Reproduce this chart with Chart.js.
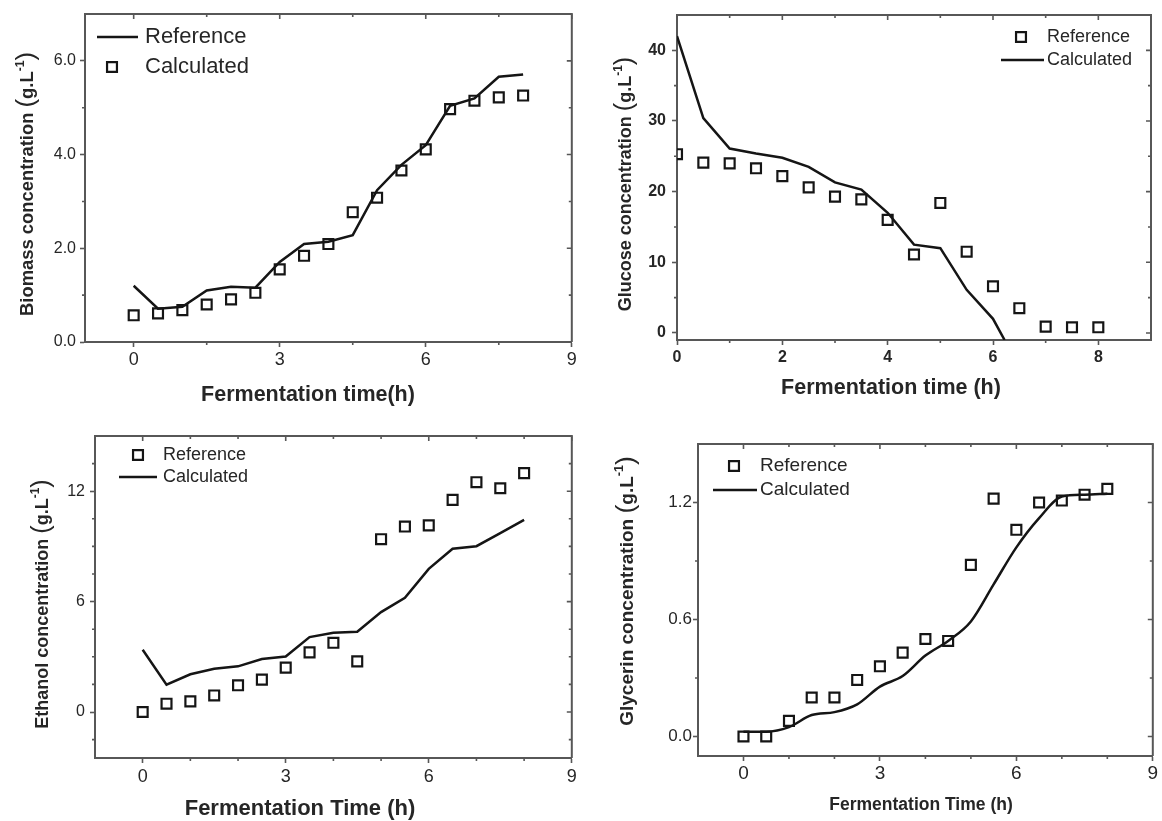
<!DOCTYPE html>
<html>
<head>
<meta charset="utf-8">
<title>Fermentation kinetics</title>
<script src="https://cdn.jsdelivr.net/npm/chart.js@4.4.1/dist/chart.umd.min.js"></script>
<style>
  html, body { margin: 0; padding: 0; background: #fff; }
  #page { position: relative; width: 1162px; height: 821px; overflow: hidden; background: #fff; }
  canvas { position: absolute; }
</style>
</head>
<body>
<div id="page">
  <canvas id="biomass" width="581" height="410" style="left:0;top:0"></canvas>
  <canvas id="glucose" width="581" height="410" style="left:581px;top:0"></canvas>
  <canvas id="ethanol" width="581" height="411" style="left:0;top:410px"></canvas>
  <canvas id="glycerin" width="581" height="411" style="left:581px;top:410px"></canvas>
</div>
<script>
var FONT = '"Liberation Sans", Arial, Helvetica, sans-serif';
var AXIS = '#575757';
var TEXT = '#262626';
var INK = '#151515';

// sampling times (h)
var timeH = [0, 0.5, 1, 1.5, 2, 2.5, 3, 3.5, 4, 4.5, 5, 5.5, 6, 6.5, 7, 7.5, 8];

// biomass: line = Reference, squares = Calculated
var biomassRef  = [1.20, 0.71, 0.75, 1.10, 1.18, 1.16, 1.71, 2.09, 2.14, 2.28, 3.24, 3.78, 4.20, 5.04, 5.20, 5.66, 5.71];
var biomassCalc = [0.57, 0.61, 0.68, 0.80, 0.91, 1.05, 1.55, 1.84, 2.09, 2.77, 3.08, 3.66, 4.11, 4.97, 5.15, 5.22, 5.26];
var biomassXTicks = [0, 3, 6, 9];
var biomassXMinor = [1.5, 4.5, 7.5];
var biomassYTicks = [0, 2, 4, 6];
var biomassYMinor = [1, 3, 5];

// glucose: squares = Reference, line = Calculated
var glucoseRef = [25.3, 24.1, 24.0, 23.3, 22.2, 20.6, 19.3, 18.9, 16.0, 11.1, 18.4, 11.5, 6.6, 3.5, 0.9, 0.8, 0.8];
var glucoseCalcTime = [0, 0.5, 1, 1.5, 2, 2.5, 3, 3.5, 4, 4.5, 5, 5.5, 6, 6.22];
var glucoseCalc = [42.0, 30.4, 26.1, 25.4, 24.8, 23.5, 21.3, 20.3, 17.0, 12.5, 12.0, 6.1, 2.0, -1.0];
var glucoseXTicks = [0, 2, 4, 6, 8];
var glucoseXMinor = [1, 3, 5, 7];
var glucoseYTicks = [0, 10, 20, 30, 40];
var glucoseYMinor = [5, 15, 25, 35];

// ethanol: squares = Reference, line = Calculated
var ethanolRef  = [0.0, 0.45, 0.58, 0.90, 1.45, 1.76, 2.41, 3.24, 3.76, 2.75, 9.39, 10.08, 10.14, 11.53, 12.49, 12.16, 12.98];
var ethanolCalc = [3.38, 1.48, 2.05, 2.35, 2.48, 2.88, 3.02, 4.07, 4.31, 4.36, 5.43, 6.21, 7.78, 8.87, 9.01, 9.72, 10.44];
var ethanolXTicks = [0, 3, 6, 9];
var ethanolXMinor = [1, 2, 4, 5, 7, 8];
var ethanolYTicks = [0, 6, 12];
var ethanolYMinor = [-1.5, 1.5, 3, 4.5, 7.5, 9, 10.5, 13.5];

// glycerin: squares = Reference, line = Calculated
var glycerinRef  = [0.0, 0.0, 0.08, 0.20, 0.20, 0.29, 0.36, 0.43, 0.50, 0.49, 0.88, 1.22, 1.06, 1.20, 1.21, 1.24, 1.27];
var glycerinCalc = [0.025, 0.025, 0.048, 0.11, 0.125, 0.165, 0.256, 0.31, 0.415, 0.49, 0.59, 0.78, 0.97, 1.12, 1.23, 1.24, 1.245];
var glycerinXTicks = [0, 3, 6, 9];
var glycerinXMinor = [1, 2, 4, 5, 7, 8];
var glycerinYTicks = [0, 0.6, 1.2];
var glycerinYMinor = [0.3, 0.9];

// top/right mirror axes + minor ticks
var framePlugin = {
  id: 'frame',
  afterDraw: function (chart, args, o) {
    var ctx = chart.ctx, a = chart.chartArea, xs = chart.scales.x, ys = chart.scales.y;
    ctx.save();
    ctx.strokeStyle = AXIS;
    ctx.lineWidth = 2;
    ctx.beginPath();
    ctx.moveTo(a.left, a.top);
    ctx.lineTo(a.right, a.top);
    ctx.lineTo(a.right, a.bottom);
    ctx.stroke();
    ctx.lineWidth = 1.6;
    ctx.beginPath();
    xs.ticks.forEach(function (t) {
      var p = xs.getPixelForValue(t.value);
      ctx.moveTo(p, a.top); ctx.lineTo(p, a.top + 5);
    });
    ys.ticks.forEach(function (t) {
      var p = ys.getPixelForValue(t.value);
      ctx.moveTo(a.right, p); ctx.lineTo(a.right - 5, p);
    });
    o.xMinor.forEach(function (v) {
      var p = xs.getPixelForValue(v);
      ctx.moveTo(p, a.top); ctx.lineTo(p, a.top + 3);
      ctx.moveTo(p, a.bottom); ctx.lineTo(p, a.bottom + 3);
    });
    o.yMinor.forEach(function (v) {
      var p = ys.getPixelForValue(v);
      ctx.moveTo(a.right, p); ctx.lineTo(a.right - 3, p);
      ctx.moveTo(a.left, p); ctx.lineTo(a.left - 3, p);
    });
    ctx.stroke();
    ctx.restore();
  }
};

// legend drawn inside the plot box
var keyPlugin = {
  id: 'key',
  afterDraw: function (chart, args, o) {
    var ctx = chart.ctx;
    ctx.save();
    o.items.forEach(function (it) {
      var ds = chart.data.datasets[it.ds];
      ctx.strokeStyle = INK;
      if (ds.showLine) {
        ctx.lineWidth = ds.borderWidth;
        ctx.beginPath();
        ctx.moveTo(it.x0, it.y);
        ctx.lineTo(it.x1, it.y);
        ctx.stroke();
      } else {
        ctx.lineWidth = ds.pointBorderWidth;
        ctx.fillStyle = 'rgba(0,0,0,0)';
        Chart.helpers.drawPoint(ctx, {pointStyle: 'rect', radius: ds.pointRadius, borderWidth: ds.pointBorderWidth, rotation: 0}, it.mx, it.y);
      }
      ctx.fillStyle = TEXT;
      ctx.font = o.size + 'px ' + FONT;
      ctx.textAlign = 'left';
      ctx.textBaseline = 'middle';
      ctx.fillText(ds.label, it.tx, it.y);
    });
    ctx.restore();
  }
};

// axis titles, with the unit's exponent raised
var titlePlugin = {
  id: 'axisTitles',
  afterDraw: function (chart, args, o) {
    var ctx = chart.ctx;
    ctx.save();
    ctx.fillStyle = TEXT;
    ctx.textBaseline = 'middle';
    ctx.textAlign = 'center';
    ctx.font = 'bold ' + o.xSize + 'px ' + FONT;
    ctx.fillText(o.xText, o.xAt[0], o.xAt[1]);

    var s = o.ySize;
    var parts = [
      {t: o.yText + ' ', f: 'bold ' + s + 'px ' + FONT, dy: 0},
      {t: '(', f: (s * 1.4) + 'px ' + FONT, dy: -1},
      {t: 'g.L', f: 'bold ' + s + 'px ' + FONT, dy: 0},
      {t: '-1', f: 'bold ' + (s * 0.66) + 'px ' + FONT, dy: -s * 0.42},
      {t: ')', f: (s * 1.4) + 'px ' + FONT, dy: -1}
    ];
    var total = 0;
    parts.forEach(function (p) { ctx.font = p.f; p.w = ctx.measureText(p.t).width; total += p.w; });
    ctx.translate(o.yAt[0], o.yAt[1]);
    ctx.rotate(-Math.PI / 2);
    ctx.textAlign = 'left';
    var cx = -total / 2;
    parts.forEach(function (p) {
      ctx.font = p.f;
      ctx.fillText(p.t, cx, p.dy);
      cx += p.w;
    });
    ctx.restore();
  }
};

function panel(id, o) {
  var cv = document.getElementById(id);
  var W = cv.width, H = cv.height, A = o.area;

  var sets = o.series.map(function (s) {
    var pts = s.x.map(function (t, i) { return {x: t, y: s.y[i]}; });
    if (s.line) {
      return {label: s.label, data: pts, showLine: true, borderColor: INK, borderWidth: 2.5,
              pointRadius: 0, pointHoverRadius: 0, tension: o.smooth ? 0.4 : 0,
              cubicInterpolationMode: o.smooth ? 'monotone' : 'default'};
    }
    return {label: s.label, data: pts, showLine: false, pointStyle: 'rect', pointRadius: 7,
            pointBorderWidth: 2.2, pointBorderColor: INK, borderColor: INK,
            pointBackgroundColor: 'rgba(0,0,0,0)', backgroundColor: 'rgba(0,0,0,0)'};
  });

  function axis(ax, isX) {
    return {
      type: 'linear', min: ax.min, max: ax.max,
      afterBuildTicks: function (sc) { sc.ticks = ax.ticks.map(function (v) { return {value: v}; }); },
      afterFit: function (sc) {
        if (isX) { sc.height = H - A.b; sc.paddingLeft = 0; sc.paddingRight = 0; }
        else { sc.width = A.l; sc.paddingTop = 0; sc.paddingBottom = 0; }
      },
      grid: {drawOnChartArea: false, drawTicks: true, tickLength: 5, tickColor: AXIS, tickWidth: 1.6},
      border: {display: true, color: AXIS, width: 2},
      ticks: {autoSkip: false, maxRotation: 0, padding: ax.pad, color: TEXT,
              font: {family: FONT, size: ax.size, weight: ax.bold ? 'bold' : 'normal'},
              callback: function (v) { return Number(v).toFixed(ax.dec); }},
      title: {display: false}
    };
  }

  return new Chart(cv, {
    type: 'scatter',
    data: {datasets: sets},
    options: {
      responsive: false,
      animation: false,
      events: [],
      layout: {padding: {left: 0, top: A.t, right: W - A.r, bottom: 0}},
      scales: {x: axis(o.x, true), y: axis(o.y, false)},
      plugins: {
        legend: {display: false},
        tooltip: {enabled: false},
        frame: {xMinor: o.x.minor, yMinor: o.y.minor},
        key: o.key,
        axisTitles: o.titles
      }
    },
    plugins: [framePlugin, keyPlugin, titlePlugin]
  });
}

panel('biomass', {
  area: {l: 85, t: 14, r: 573, b: 342},
  series: [
    {label: 'Reference', line: true, x: timeH, y: biomassRef},
    {label: 'Calculated', line: false, x: timeH, y: biomassCalc}
  ],
  x: {min: -1, max: 9, ticks: biomassXTicks, minor: biomassXMinor, dec: 0, size: 18, pad: 2},
  y: {min: 0, max: 7, ticks: biomassYTicks, minor: biomassYMinor, dec: 1, size: 16, pad: 4},
  key: {size: 22, items: [
    {ds: 0, x0: 97, x1: 138, y: 37, tx: 145},
    {ds: 1, mx: 112, y: 67, tx: 145}
  ]},
  titles: {xText: 'Fermentation time(h)', xSize: 21.5, xAt: [308, 395],
           yText: 'Biomass concentration', ySize: 18.4, yAt: [28, 184]}
});

panel('glucose', {
  area: {l: 96, t: 15, r: 570, b: 340},
  series: [
    {label: 'Reference', line: false, x: timeH, y: glucoseRef},
    {label: 'Calculated', line: true, x: glucoseCalcTime, y: glucoseCalc}
  ],
  x: {min: 0, max: 9, ticks: glucoseXTicks, minor: glucoseXMinor, dec: 0, size: 16, bold: true, pad: 3},
  y: {min: -1, max: 45, ticks: glucoseYTicks, minor: glucoseYMinor, dec: 0, size: 16, bold: true, pad: 6},
  key: {size: 18, items: [
    {ds: 0, mx: 440, y: 37, tx: 466},
    {ds: 1, x0: 420, x1: 463, y: 60, tx: 466}
  ]},
  titles: {xText: 'Fermentation time (h)', xSize: 21.5, xAt: [310, 388],
           yText: 'Glucose concentration', ySize: 18, yAt: [45, 184]}
});

panel('ethanol', {
  area: {l: 95, t: 26, r: 573, b: 348},
  series: [
    {label: 'Reference', line: false, x: timeH, y: ethanolRef},
    {label: 'Calculated', line: true, x: timeH, y: ethanolCalc}
  ],
  x: {min: -1, max: 9, ticks: ethanolXTicks, minor: ethanolXMinor, dec: 0, size: 18, pad: 3},
  y: {min: -2.5, max: 15, ticks: ethanolYTicks, minor: ethanolYMinor, dec: 0, size: 16, pad: 5},
  key: {size: 18, items: [
    {ds: 0, mx: 138, y: 45, tx: 163},
    {ds: 1, x0: 119, x1: 157, y: 67, tx: 163}
  ]},
  titles: {xText: 'Fermentation Time (h)', xSize: 22, xAt: [300, 399],
           yText: 'Ethanol concentration', ySize: 18, yAt: [43, 194]}
});

panel('glycerin', {
  area: {l: 117, t: 34, r: 578, b: 346},
  smooth: true,
  series: [
    {label: 'Reference', line: false, x: timeH, y: glycerinRef},
    {label: 'Calculated', line: true, x: timeH, y: glycerinCalc}
  ],
  x: {min: -1, max: 9, ticks: glycerinXTicks, minor: glycerinXMinor, dec: 0, size: 19, pad: 1},
  y: {min: -0.1, max: 1.5, ticks: glycerinYTicks, minor: glycerinYMinor, dec: 1, size: 17, pad: 1},
  key: {size: 19, items: [
    {ds: 0, mx: 153, y: 56, tx: 179},
    {ds: 1, x0: 132, x1: 176, y: 80, tx: 179}
  ]},
  titles: {xText: 'Fermentation Time (h)', xSize: 17.5, xAt: [340, 395],
           yText: 'Glycerin concentration', ySize: 19, yAt: [47, 181]}
});
</script>
</body>
</html>
